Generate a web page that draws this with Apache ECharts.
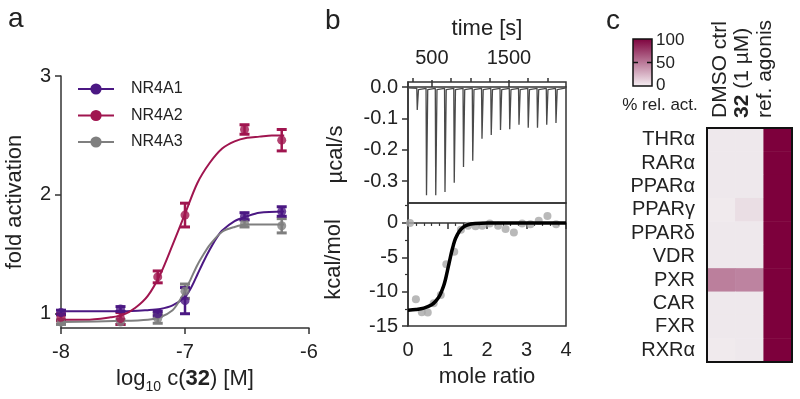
<!DOCTYPE html>
<html>
<head>
<meta charset="utf-8">
<script src="https://cdn.jsdelivr.net/npm/echarts@6/dist/echarts.min.js"></script>
<style>
html, body { margin: 0; padding: 0; background: #fff; }
#chart { width: 800px; height: 399px; }
</style>
</head>
<body>
<div id="chart"></div>
<script>
// ---- panel a: dose response (log10 conc vs fold activation)
var concLog = [-8, -7.52, -7.22, -7.0, -6.52, -6.22];
var nr4a1Mean = [1.01, 1.04, 1.0, 1.11, 1.82, 1.86];
var nr4a1Err = [0.02, 0.02, 0.02, 0.11, 0.03, 0.04];
var nr4a2Mean = [0.97, 0.96, 1.31, 1.83, 2.55, 2.46];
var nr4a2Err = [0.03, 0.05, 0.05, 0.10, 0.04, 0.09];
var nr4a3Mean = [0.93, 0.93, 0.96, 1.19, 1.76, 1.74];
var nr4a3Err = [0.02, 0.02, 0.04, 0.06, 0.03, 0.06];

// fitted curves
var fit1X = [-8, -7.5, -7.3, -7.2, -7.1, -7.0, -6.95, -6.9, -6.85, -6.8, -6.75, -6.7, -6.6, -6.5, -6.4, -6.2];
var fit1Y = [1.02, 1.02, 1.03, 1.04, 1.07, 1.14, 1.22, 1.33, 1.44, 1.54, 1.63, 1.7, 1.78, 1.82, 1.85, 1.86];
var fit2X = [-8, -7.8, -7.6, -7.5, -7.4, -7.3, -7.2, -7.1, -7.0, -6.9, -6.8, -6.7, -6.6, -6.5, -6.4, -6.3, -6.2];
var fit2Y = [0.95, 0.95, 0.97, 0.99, 1.05, 1.15, 1.33, 1.58, 1.84, 2.1, 2.27, 2.39, 2.45, 2.48, 2.49, 2.5, 2.5];
var fit3X = [-8, -7.5, -7.3, -7.2, -7.1, -7.05, -7.0, -6.95, -6.9, -6.85, -6.8, -6.7, -6.6, -6.5, -6.2];
var fit3Y = [0.93, 0.94, 0.95, 0.97, 1.03, 1.1, 1.19, 1.3, 1.41, 1.5, 1.58, 1.69, 1.73, 1.75, 1.75];

// ---- panel b: ITC
var injTime = [310, 430, 550, 670, 790, 910, 1030, 1150, 1270, 1390, 1510, 1630, 1750, 1870, 1990, 2110];
var injPeak = [-0.073, -0.345, -0.345, -0.335, -0.305, -0.255, -0.235, -0.165, -0.153, -0.137, -0.135, -0.12, -0.13, -0.13, -0.12, -0.115];

var moleRatio = [0.05, 0.2, 0.35, 0.5, 0.65, 0.83, 0.97, 1.17, 1.34, 1.52, 1.71, 1.88, 2.07, 2.28, 2.47, 2.68, 2.89, 3.1, 3.31, 3.53, 3.75];
var heat = [0, -11.1, -13.0, -13.05, -11.7, -10.5, -6.0, -4.2, -1.0, -0.4, -0.5, -0.4, -0.1, -0.4, -0.9, -1.4, -0.1, -0.2, 0.3, 1.0, -0.2];
var itcFitX = [0, 0.2, 0.4, 0.6, 0.7, 0.8, 0.9, 0.95, 1.0, 1.05, 1.1, 1.15, 1.2, 1.3, 1.4, 1.5, 1.7, 2.0, 2.5, 3.0, 3.5, 4.0];
var itcFitY = [-12.7, -12.6, -12.4, -11.9, -11.4, -10.6, -9.2, -8.2, -6.9, -5.6, -4.3, -3.2, -2.3, -1.2, -0.6, -0.3, -0.1, 0, 0, 0, 0, 0];

// ---- panel c: selectivity heatmap (% rel. act.)
var receptors = ['THRα', 'RARα', 'PPARα', 'PPARγ', 'PPARδ', 'VDR', 'PXR', 'CAR', 'FXR', 'RXRα'];
var conditions = ['DMSO ctrl', '32 (1 µM)', 'ref. agonis'];
var dmsoAct = [3, 3, 3, 2, 3, 3, 47, 3, 3, 2];
var cpdAct = [3, 3, 3, 7, 3, 3, 45, 3, 3, 3];
var refAct = [100, 100, 100, 100, 100, 100, 100, 100, 100, 100];

var FONT = 'Liberation Sans';
var INK = '#222';
var AX = '#333';
var C1 = '#4b1883', C2 = '#a0154f', C3 = '#7f7f7f';

function zip(xs, ys) { return xs.map(function (x, i) { return [x, ys[i]]; }); }

function errSeries(color, mean, err) {
  return {
    type: 'custom', xAxisIndex: 0, yAxisIndex: 0, z: 3,
    data: concLog.map(function (x, i) { return [x, mean[i] - err[i], mean[i] + err[i]]; }),
    encode: { x: 0, y: [1, 2] },
    renderItem: function (params, api) {
      var lo = api.coord([api.value(0), api.value(1)]);
      var hi = api.coord([api.value(0), api.value(2)]);
      var w = 5;
      return {
        type: 'group',
        children: [
          { type: 'line', shape: { x1: lo[0], y1: lo[1], x2: hi[0], y2: hi[1] }, style: { stroke: color, lineWidth: 2.5 } },
          { type: 'line', shape: { x1: lo[0] - w, y1: lo[1], x2: lo[0] + w, y2: lo[1] }, style: { stroke: color, lineWidth: 3 } },
          { type: 'line', shape: { x1: hi[0] - w, y1: hi[1], x2: hi[0] + w, y2: hi[1] }, style: { stroke: color, lineWidth: 3 } }
        ]
      };
    }
  };
}

// thermogram trace: baseline with a spike at each injection
var thermo = [[190, -0.003]];
injTime.forEach(function (t, i) {
  thermo.push([t - 6, -0.004], [t, injPeak[i]], [t + 16, -0.008], [t + 38, -0.004]);
});
thermo.push([2240, -0.003]);

var heatData = [];
receptors.forEach(function (r, i) {
  heatData.push([0, i, dmsoAct[i]], [1, i, cpdAct[i]], [2, i, refAct[i]]);
});

var gHeat = { left: 707, top: 128, width: 85, height: 234 };

var lineAx = { lineStyle: { color: AX, width: 1.5 } };
var tickAx = { length: 6, lineStyle: { color: AX, width: 1.5 } };

var option = {
  animation: false,
  textStyle: { fontFamily: FONT },
  grid: [
    { left: 61, top: 76, width: 248, height: 255 },
    { left: 408, top: 82, width: 158, height: 121, show: true, borderColor: AX, borderWidth: 1.5 },
    { left: 408, top: 203, width: 158, height: 123, show: true, borderColor: AX, borderWidth: 1.5 },
    { left: gHeat.left, top: gHeat.top, width: gHeat.width, height: gHeat.height }
  ],
  legend: {
    data: ['NR4A1', 'NR4A2', 'NR4A3'],
    orient: 'vertical', left: 72, top: 76,
    itemWidth: 36, itemHeight: 14, itemGap: 10.5,
    textStyle: { fontSize: 16, color: INK, padding: [0, 0, 0, 12] }
  },
  xAxis: [
    {
      gridIndex: 0, type: 'value', min: -8, max: -6, interval: 1,
      axisLine: lineAx, axisTick: tickAx, splitLine: { show: false },
      axisLabel: { fontSize: 20, color: INK, margin: 14 },
      name: '{n|log}{s|10}{n| c(}{b|32}{n|) [M]}',
      nameLocation: 'middle', nameGap: 36,
      nameTextStyle: {
        rich: {
          n: { fontSize: 22, color: INK, fontFamily: FONT },
          s: { fontSize: 14, color: INK, fontFamily: FONT, verticalAlign: 'bottom', lineHeight: 30 },
          b: { fontSize: 22, color: INK, fontFamily: FONT, fontWeight: 'bold' }
        }
      }
    },
    {
      gridIndex: 1, type: 'value', position: 'top', min: 190, max: 2240,
      axisLine: lineAx, splitLine: { show: false },
      axisTick: { length: 7, lineStyle: { color: AX, width: 1.5 }, customValues: [500, 1500] },
      axisLabel: { fontSize: 20, color: INK, margin: 14, customValues: [500, 1500],
        formatter: function (v) { return String(v); } },
      name: 'time [s]', nameLocation: 'middle', nameGap: 42,
      nameTextStyle: { fontSize: 22, color: INK }
    },
    {
      gridIndex: 1, type: 'value', position: 'top', min: 190, max: 2240,
      axisLine: { show: false }, splitLine: { show: false }, axisLabel: { show: false },
      axisTick: { length: 4, lineStyle: { color: AX, width: 1.5 }, customValues: [250, 750, 1000, 1250, 1750, 2000] }
    },
    {
      gridIndex: 2, type: 'value', min: 0, max: 4, interval: 1,
      axisLine: lineAx, axisTick: tickAx, splitLine: { show: false },
      minorTick: { show: true, splitNumber: 5, length: 3, lineStyle: { color: AX, width: 1.2 } },
      axisLabel: { fontSize: 20, color: INK, margin: 14 },
      name: 'mole ratio', nameLocation: 'middle', nameGap: 40,
      nameTextStyle: { fontSize: 22, color: INK }
    },
    {
      gridIndex: 3, type: 'category', position: 'top', data: conditions,
      axisLine: { show: false }, axisTick: { show: false }, axisLabel: { show: false }
    }
  ],
  yAxis: [
    {
      gridIndex: 0, type: 'value', min: 0.88, max: 3,
      axisLine: lineAx, splitLine: { show: false },
      axisTick: { length: 6, lineStyle: { color: AX, width: 1.5 }, customValues: [1, 2, 3] },
      axisLabel: { fontSize: 20, color: INK, margin: 10, customValues: [1, 2, 3] },
      name: 'fold activation', nameLocation: 'middle', nameGap: 35,
      nameTextStyle: { fontSize: 22, color: INK }
    },
    {
      gridIndex: 1, type: 'value', min: -0.37, max: 0.016,
      axisLine: lineAx, splitLine: { show: false },
      axisTick: { length: 6, lineStyle: { color: AX, width: 1.5 }, customValues: [0, -0.1, -0.2, -0.3] },
      axisLabel: {
        fontSize: 20, color: INK, margin: 10, customValues: [0, -0.1, -0.2, -0.3],
        formatter: function (v) { return v.toFixed(1); }
      },
      name: 'µcal/s', nameLocation: 'middle', nameGap: 61,
      nameTextStyle: { fontSize: 22, color: INK, padding: [0, 24, 0, 0] }
    },
    {
      gridIndex: 2, type: 'value', min: -15, max: 2.9,
      axisLine: lineAx, splitLine: { show: false },
      axisTick: { length: 6, lineStyle: { color: AX, width: 1.5 }, customValues: [0, -5, -10, -15] },
      axisLabel: { fontSize: 20, color: INK, margin: 10, customValues: [0, -5, -10, -15] },
      name: 'kcal/mol', nameLocation: 'middle', nameGap: 63,
      nameTextStyle: { fontSize: 22, color: INK, padding: [0, 0, 0, 10] }
    },
    {
      gridIndex: 2, type: 'value', position: 'left', min: -15, max: 2.9,
      axisLine: { show: false }, splitLine: { show: false }, axisLabel: { show: false },
      axisTick: { length: 3, lineStyle: { color: AX, width: 1.2 }, customValues: [2.5, -2.5, -7.5, -12.5] }
    },
    {
      gridIndex: 3, type: 'category', data: receptors, inverse: true,
      axisLine: { show: false }, axisTick: { show: false },
      axisLabel: { fontSize: 20, color: INK, margin: 12, interval: 0 }
    }
  ],
  visualMap: {
    show: false, type: 'continuous', seriesIndex: 12, min: 0, max: 100,
    inRange: { color: ['#f2eff1', '#7d003c'] }
  },
  series: [
    { name: 'NR4A1', type: 'line', xAxisIndex: 0, yAxisIndex: 0, data: zip(fit1X, fit1Y), smooth: 0.3,
      symbol: 'circle', symbolSize: 9, showSymbol: false, color: C1, lineStyle: { width: 2 }, z: 3 },
    { name: 'NR4A2', type: 'line', xAxisIndex: 0, yAxisIndex: 0, data: zip(fit2X, fit2Y), smooth: 0.3,
      symbol: 'circle', symbolSize: 9, showSymbol: false, color: C2, lineStyle: { width: 2 }, z: 3 },
    { name: 'NR4A3', type: 'line', xAxisIndex: 0, yAxisIndex: 0, data: zip(fit3X, fit3Y), smooth: 0.3,
      symbol: 'circle', symbolSize: 9, showSymbol: false, color: C3, lineStyle: { width: 2 }, z: 3 },
    { type: 'scatter', xAxisIndex: 0, yAxisIndex: 0, data: zip(concLog, nr4a3Mean), symbolSize: 9, color: C3, z: 4 },
    { type: 'scatter', xAxisIndex: 0, yAxisIndex: 0, data: zip(concLog, nr4a2Mean), symbolSize: 9, color: C2, z: 4 },
    { type: 'scatter', xAxisIndex: 0, yAxisIndex: 0, data: zip(concLog, nr4a1Mean), symbolSize: 9, color: C1, z: 4 },
    errSeries(C3, nr4a3Mean, nr4a3Err),
    errSeries(C2, nr4a2Mean, nr4a2Err),
    errSeries(C1, nr4a1Mean, nr4a1Err),
    { type: 'line', xAxisIndex: 1, yAxisIndex: 1, data: thermo, symbol: 'none',
      color: '#4a4a4a', lineStyle: { width: 1.3 } },
    { type: 'scatter', xAxisIndex: 3, yAxisIndex: 2, data: zip(moleRatio, heat), symbolSize: 8,
      color: '#a8a8a8', z: 2 },
    { type: 'line', xAxisIndex: 3, yAxisIndex: 2, data: zip(itcFitX, itcFitY), smooth: 0.3, symbol: 'none',
      color: '#000', lineStyle: { width: 3.5 }, z: 3 },
    { type: 'heatmap', xAxisIndex: 4, yAxisIndex: 4, data: heatData, itemStyle: { borderWidth: 0 } }
  ],
  graphic: [
    { type: 'text', left: 8, top: 5, style: { text: 'a', fontSize: 28, fill: INK, fontFamily: FONT } },
    { type: 'text', left: 325, top: 7, style: { text: 'b', fontSize: 28, fill: INK, fontFamily: FONT } },
    { type: 'text', left: 606, top: 7, style: { text: 'c', fontSize: 28, fill: INK, fontFamily: FONT } },
    // colour bar
    { type: 'rect', shape: { x: 633, y: 39, width: 19, height: 47 },
      style: { fill: new echarts.graphic.LinearGradient(0, 0, 0, 1, [{ offset: 0, color: '#7d003c' }, { offset: 1, color: '#f7f2f5' }]),
        stroke: '#111', lineWidth: 1.5 }, z: 10 },
    { type: 'line', shape: { x1: 633, y1: 62.5, x2: 652, y2: 62.5 }, style: { stroke: '#111', lineWidth: 1.5, lineDash: [5, 9] }, z: 11 },
    { type: 'text', x: 656, y: 40, style: { text: '100', fontSize: 17, fill: INK, fontFamily: FONT, verticalAlign: 'middle' }, z: 10 },
    { type: 'text', x: 656, y: 63, style: { text: '50', fontSize: 17, fill: INK, fontFamily: FONT, verticalAlign: 'middle' }, z: 10 },
    { type: 'text', x: 656, y: 85, style: { text: '0', fontSize: 17, fill: INK, fontFamily: FONT, verticalAlign: 'middle' }, z: 10 },
    { type: 'text', x: 660, y: 105, style: { text: '% rel. act.', fontSize: 17, fill: INK, fontFamily: FONT, align: 'center', verticalAlign: 'middle' }, z: 10 },
    // heatmap frame
    { type: 'rect', shape: { x: gHeat.left, y: gHeat.top, width: gHeat.width, height: gHeat.height },
      style: { fill: null, stroke: '#111', lineWidth: 2 }, z: 20 }
  ].concat(conditions.map(function (c, i) {
    var txt = c.indexOf('32') === 0 ? '{b|32}' + c.slice(2) : c;
    return {
      type: 'text', x: 720 + i * 22.5, y: 118, rotation: Math.PI / 2, z: 10,
      style: {
        text: txt, fontSize: 21, fill: INK, fontFamily: FONT, align: 'left', verticalAlign: 'middle',
        rich: { b: { fontSize: 21, fontWeight: 'bold', fill: INK, fontFamily: FONT } }
      }
    };
  }))
};

var chart = echarts.init(document.getElementById('chart'));
chart.setOption(option);
</script>
</body>
</html>
